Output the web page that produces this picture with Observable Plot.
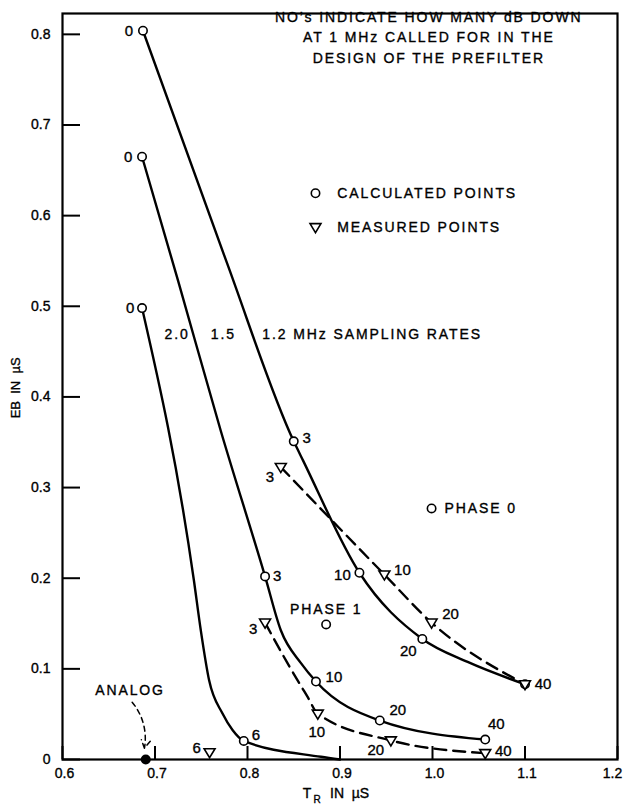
<!DOCTYPE html>
<html><head><meta charset="utf-8">
<script src="https://cdn.jsdelivr.net/npm/d3@7"></script>
<script src="https://cdn.jsdelivr.net/npm/@observablehq/plot@0.6"></script>
<style>
body{margin:0;background:#fff}
svg{display:block}
svg text{stroke:#000;stroke-width:0.35px}
g.ann text{letter-spacing:1.9px}
</style>
</head><body><div id="chart"></div>
<script>
// ---------- axis ticks ----------
const xTicks = [0.6, 0.7, 0.8, 0.9, 1.0, 1.1, 1.2];
const yTicks = [0, 0.1, 0.2, 0.3, 0.4, 0.5, 0.6, 0.7, 0.8];

// ---------- calculated points (circles) ----------
const calc12X = [0.687, 0.850, 0.921, 0.989, 1.100];
const calc12Y = [0.804, 0.351, 0.206, 0.133, 0.083];
const calc12Labels = ["0", "3", "10", "20", "40"];

const calc15X = [0.686, 0.819, 0.874, 0.943, 1.057];
const calc15Y = [0.665, 0.202, 0.086, 0.043, 0.022];
const calc15Labels = ["0", "3", "10", "20", "40"];

const calc20X = [0.686, 0.796];
const calc20Y = [0.498, 0.0205];
const calc20Labels = ["0", "6"];

// ---------- measured points (triangles) ----------
const meas12X = [0.836, 0.948, 0.999, 1.100];
const meas12Y = [0.3226, 0.204, 0.151, 0.083];
const meas12Labels = ["3", "10", "20", "40"];

const meas15X = [0.819, 0.876, 0.955, 1.057];
const meas15Y = [0.151, 0.0505, 0.021, 0.007];
const meas15Labels = ["3", "10", "20", "40"];

const meas20X = [0.759];
const meas20Y = [0.008];
const meas20Labels = ["6"];

// ---------- curves ----------
const curve12X = [0.687, 0.777, 0.850, 0.860, 0.921, 0.989, 1.038, 1.100];
const curve12Y = [0.804, 0.550, 0.351, 0.330, 0.206, 0.133, 0.1076, 0.083];
const curve15X = [0.686, 0.725, 0.771, 0.819, 0.836, 0.858, 0.874, 0.943, 1.057];
const curve15Y = [0.665, 0.528, 0.363, 0.202, 0.1426, 0.106, 0.086, 0.043, 0.022];
const curve20X = [0.686, 0.742, 0.7495, 0.7585, 0.773, 0.784, 0.796, 0.8795, 0.900];
const curve20Y = [0.498, 0.198, 0.1426, 0.0874, 0.0507, 0.0323, 0.0205, 0.003, 0.000];
const dash12X = [0.836, 0.948, 0.999, 1.100];
const dash12Y = [0.3226, 0.204, 0.151, 0.083];
const dash15X = [0.819, 0.8434, 0.865, 0.876, 0.955, 1.057];
const dash15Y = [0.151, 0.106, 0.069, 0.0505, 0.021, 0.007];

// ---------- other points ----------
const phaseNames = ["PHASE 1", "PHASE 0"];
const phaseX = [0.885, 0.999];
const phaseY = [0.149, 0.277];
const analogX = [0.690];
const analogY = [0];

// ---------- annotation texts ----------
const noteText = "NO’s INDICATE HOW MANY dB DOWN\nAT 1 MHz CALLED FOR IN THE\nDESIGN OF THE PREFILTER";
const legendTexts = ["CALCULATED POINTS", "MEASURED POINTS"];
const rateTexts = ["2.0", "1.5", "1.2 MHz SAMPLING RATES"];
const yTitle = "EB  IN  µS";
const xTitleParts = ["T", "R", "IN  µS"];

// annotation anchors (data units)
const noteAt = {x: 0.996, y: 0.7987};
const legendAt = {x: 0.8735, tx: 0.897, y: [0.6247, 0.5872]};
const rateAt = {x: [0.7103, 0.7603, 0.8159], y: 0.4688};
const analogTextAt = {x: 0.673, y: 0.0761};
const arrowFrom = {x: 0.6753, y: 0.0632};
const arrowTo = {x: 0.6886, y: 0.0125};
const yTitleAt = 0.41;

// ---------- styling ----------
const FONT = "'Liberation Sans', Arial, Helvetica, sans-serif";
const X_DOMAIN = [0.6, 1.2], Y_DOMAIN = [0, 0.823];
const M = {top: 13, right: 8, bottom: 49, left: 62};
const W = 625, H = 808;
const frameW = W - M.left - M.right, frameH = H - M.top - M.bottom;
// inward tick lengths (pixels) expressed in data units of each scale
const xTickLen = 13 * (Y_DOMAIN[1] - Y_DOMAIN[0]) / frameH;
const yTickLen = 18 * (X_DOMAIN[1] - X_DOMAIN[0]) / frameW;

const downTriangle = {
  draw(ctx, size) {
    const s = Math.sqrt(size / Math.PI);
    ctx.moveTo(-1.3 * s, -0.85 * s);
    ctx.lineTo(1.3 * s, -0.85 * s);
    ctx.lineTo(0, 1.3 * s);
    ctx.closePath();
  }
};
const lineW = 2.4;

// label offsets in pixels (style), one per point, null = not drawn
const offs = {
  calc12: [[-14, 0], [13, -3], [-17, 2], [-14, 12], null],
  calc15: [[-14, 0], [12, 0], [18, -4], [18, -10], [11, -15]],
  calc20: [[-12, 0], [12, -6]],
  meas12: [[-11, 10], [18, -4], [19, -8], [18, 0]],
  meas15: [[-12, 7], [-1, 18], [-15, 10], [18, -2]],
  meas20: [[-13, -4]]
};
function numLabels(xs, ys, labels, o) {
  return labels.map((t, i) => o[i] ? Plot.text([t], {
    x: () => xs[i], y: () => ys[i], text: d => d,
    dx: o[i][0], dy: o[i][1], fontSize: 15
  }) : null).filter(Boolean);
}
const idx = a => a.map((_, i) => i);
const circles = (xs, ys) => Plot.dot(idx(xs), {x: i => xs[i], y: i => ys[i], r: 4.2, stroke: "black", strokeWidth: 1.6, fill: "white"});
const triangles = (xs, ys) => Plot.dot(idx(xs), {x: i => xs[i], y: i => ys[i], r: 4.2, symbol: downTriangle, stroke: "black", strokeWidth: 1.6, fill: "white"});
const solid = (xs, ys) => Plot.line(idx(xs), {x: i => xs[i], y: i => ys[i], curve: "monotone-x", stroke: "black", strokeWidth: lineW});
const dashed = (xs, ys) => Plot.line(idx(xs), {x: i => xs[i], y: i => ys[i], curve: "monotone-x", stroke: "black", strokeWidth: lineW, strokeDasharray: "12,7"});
const ann = (data, opts) => Plot.text(data, {fontSize: 14, className: "ann", ...opts});

const chart = Plot.plot({
  width: W,
  height: H,
  marginLeft: M.left,
  marginRight: M.right,
  marginTop: M.top,
  marginBottom: M.bottom,
  style: {fontFamily: FONT, fontSize: "14px", color: "#000", background: "#fff"},
  x: {domain: X_DOMAIN},
  y: {domain: Y_DOMAIN},
  marks: [
    Plot.axisX({ticks: xTicks.slice(0, -1), tickSize: 0, tickPadding: 9, tickFormat: d => d.toFixed(1), label: null, fontSize: 14, dx: 2}),
    Plot.text(xTicks.slice(-1), {x: d => d, frameAnchor: "bottom", lineAnchor: "top", dy: 9, dx: -5, text: d => d.toFixed(1), fontSize: 14}),
    Plot.axisY({ticks: yTicks, tickSize: 0, tickPadding: 12, tickFormat: d => d === 0 ? "0" : d.toFixed(1), label: null, fontSize: 14}),
    Plot.ruleX(xTicks, {x: d => d, y1: Y_DOMAIN[0], y2: Y_DOMAIN[0] + xTickLen, stroke: "black", strokeWidth: 2}),
    Plot.ruleY(yTicks, {y: d => d, x1: X_DOMAIN[0], x2: X_DOMAIN[0] + yTickLen, stroke: "black", strokeWidth: 2}),
    Plot.frame({stroke: "black", strokeWidth: 2.2}),
    // curves
    solid(curve12X, curve12Y),
    solid(curve15X, curve15Y),
    solid(curve20X, curve20Y),
    dashed(dash12X, dash12Y),
    dashed(dash15X, dash15Y),
    // points
    circles(calc12X, calc12Y),
    circles(calc15X, calc15Y),
    circles(calc20X, calc20Y),
    triangles(meas12X, meas12Y),
    triangles(meas15X, meas15Y),
    triangles(meas20X, meas20Y),
    circles(phaseX, phaseY),
    Plot.dot(idx(analogX), {x: i => analogX[i], y: i => analogY[i], r: 5, fill: "black"}),
    // numeric labels
    ...numLabels(calc12X, calc12Y, calc12Labels, offs.calc12),
    ...numLabels(calc15X, calc15Y, calc15Labels, offs.calc15),
    ...numLabels(calc20X, calc20Y, calc20Labels, offs.calc20),
    ...numLabels(meas12X, meas12Y, meas12Labels, offs.meas12),
    ...numLabels(meas15X, meas15Y, meas15Labels, offs.meas15),
    ...numLabels(meas20X, meas20Y, meas20Labels, offs.meas20),
    // phase labels
    ann([phaseNames[0]], {x: () => phaseX[0], y: () => phaseY[0], text: d => d, dy: -15}),
    ann([phaseNames[1]], {x: () => phaseX[1], y: () => phaseY[1], text: d => d, dx: 13, textAnchor: "start"}),
    // note
    ann([noteText], {x: () => noteAt.x, y: () => noteAt.y, text: d => d, lineAnchor: "middle", lineHeight: 1.47}),
    // legend
    Plot.dot([0], {x: () => legendAt.x, y: () => legendAt.y[0], r: 4.2, stroke: "black", strokeWidth: 1.6, fill: "white"}),
    Plot.dot([0], {x: () => legendAt.x, y: () => legendAt.y[1], r: 4.2, symbol: downTriangle, stroke: "black", strokeWidth: 1.6, fill: "white"}),
    ann(legendTexts, {x: () => legendAt.tx, y: (d, i) => legendAt.y[i], text: d => d, textAnchor: "start"}),
    // sampling rates
    ann(rateTexts, {x: (d, i) => rateAt.x[i], y: () => rateAt.y, text: d => d, textAnchor: "start"}),
    // analog
    ann(["ANALOG"], {x: () => analogTextAt.x, y: () => analogTextAt.y, text: d => d}),
    Plot.arrow([0], {x1: () => arrowFrom.x, y1: () => arrowFrom.y, x2: () => arrowTo.x, y2: () => arrowTo.y, bend: 25, stroke: "black", strokeWidth: 1.5, strokeDasharray: "5,4", headLength: 9}),
    // axis titles
    Plot.text([yTitle], {frameAnchor: "left", y: () => yTitleAt, text: d => d, rotate: -90, dx: -47, textAnchor: "middle", fontSize: 13}),
    Plot.text([xTitleParts[0]], {frameAnchor: "bottom", text: d => d, dx: -33, dy: 38, textAnchor: "middle", fontSize: 14}),
    Plot.text([xTitleParts[1]], {frameAnchor: "bottom", text: d => d, dx: -23, dy: 43, textAnchor: "middle", fontSize: 10}),
    Plot.text([xTitleParts[2]], {frameAnchor: "bottom", text: d => d, dx: -10, dy: 38, textAnchor: "start", fontSize: 14})
  ]
});
document.getElementById("chart").appendChild(chart);
</script>
</body></html>
